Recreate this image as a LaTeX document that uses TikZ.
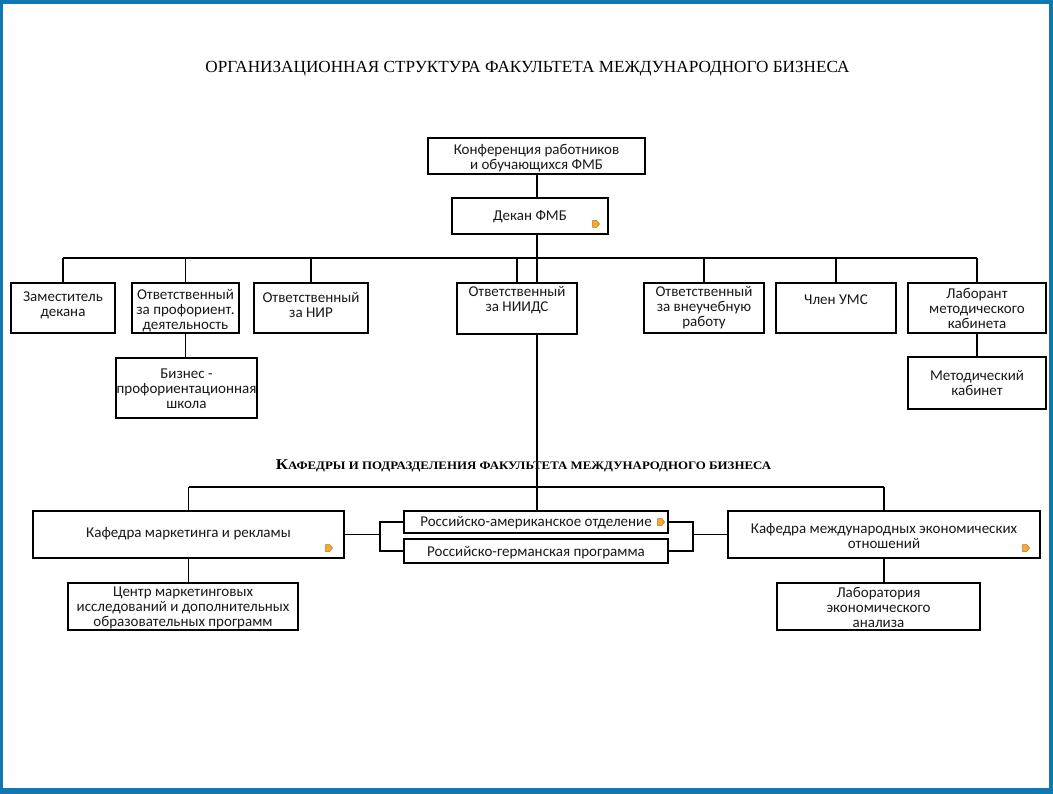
\documentclass[tikz,border=0pt]{standalone}
\usepackage{graphicx}
\usepackage{fontspec}
\setmainfont{Carlito}
\newfontfamily\tnr{Liberation Serif}
\definecolor{frameblue}{RGB}{16,120,176}
\definecolor{iconfill}{RGB}{245,170,50}
\definecolor{icondraw}{RGB}{190,110,20}
\newcommand\mybox[5]{\node[box, minimum width=#4pt-#2pt, minimum height=#5pt-#3pt] (#1) at ({(#2+#4)/2},{(#3+#5)/2}) {};}
\newcommand\myicon[2]{\filldraw[fill=iconfill, draw=icondraw, line width=0.5pt] (#1-3.5,#2-3.5) -- (#1+0.5,#2-3.5) -- (#1+3.5,#2) -- (#1+0.5,#2+3.5) -- (#1-3.5,#2+3.5) -- cycle;}
\begin{document}
\begin{tikzpicture}[x=1pt,y=-1pt,
  box/.style={draw=black, line width=1.1pt, fill=white, inner sep=0pt},
  txt/.style={font=\fontsize{15}{15}\selectfont, align=center, inner sep=0pt, text=black!90, yshift=-2pt},
  conn/.style={draw=black, line width=1.1pt}]
\useasboundingbox (0,0) rectangle (1053,794);
\fill[frameblue] (0,0) rectangle (1053,794);
\fill[white] (3,4) rectangle (1049,788);

% titles
\node[font=\tnr\fontsize{17}{17}\selectfont, inner sep=0pt] (title) at (527.5,69)
  {\scalebox{1.01}[1]{ОРГАНИЗАЦИОННАЯ СТРУКТУРА ФАКУЛЬТЕТА МЕЖДУНАРОДНОГО БИЗНЕСА}};

% boxes
\mybox{conf}{428}{138}{645}{174}
\mybox{dean}{452}{198}{608}{234}
\mybox{zam}{11}{283}{115}{333}
\mybox{prof}{132}{283}{239}{333}
\mybox{nir}{254}{283}{368}{333}
\mybox{niids}{457}{283}{577}{334}
\mybox{vne}{644}{283}{764}{333}
\mybox{ums}{776}{283}{896}{333}
\mybox{lab}{908}{283}{1046}{333}
\mybox{biz}{116}{358}{257}{418}
\mybox{metk}{908}{357}{1046}{409}
\mybox{kmark}{33}{511}{344}{558}
\mybox{ra}{404}{511}{668}{533}
\mybox{rg}{404}{539}{668}{563}
\mybox{kmeo}{728}{511}{1040}{558}
\mybox{centr}{68}{583}{298}{630}
\mybox{lea}{777}{583}{980}{630}

% texts
\node[txt] (t-conf) at (536.5,156.5) {Конференция работников\\и обучающихся ФМБ};
\node[txt] (t-dean) at (530,215) {Декан ФМБ};
\node[txt] (t-zam) at (63,303.5) {Заместитель\\декана};
\node[txt] (t-prof) at (185.5,308.5) {Ответственный\\за профориент.\\деятельность};
\node[txt] (t-nir) at (311,302.5) {Ответственный\\за НИР};
\node[txt] (t-niids) at (517,298.5) {Ответственный\\за НИИДС};
\node[txt] (t-vne) at (704,306) {Ответственный\\за внеучебную\\работу};
\node[txt] (t-ums) at (836,298) {Член УМС};
\node[txt] (t-lab) at (977,306) {Лаборант\\методического\\кабинета};
\node[txt] (t-biz) at (186.5,387) {Бизнес -\\профориентационная\\школа};
\node[txt] (t-metk) at (977,381) {Методический\\кабинет};
\node[txt] (t-kmark) at (188.5,532) {Кафедра маркетинга и рекламы};
\node[txt] (t-ra) at (536,521) {Российско-американское отделение};
\node[txt] (t-rg) at (536,551) {Российско-германская программа};
\node[txt] (t-kmeo) at (884,534) {Кафедра международных экономических\\отношений};
\node[txt] (t-centr) at (183,606) {Центр маркетинговых\\исследований и дополнительных\\образовательных программ};
\node[txt] (t-lea) at (878.5,605) {Лаборатория\\экономического\\анализа};

\node[font=\tnr\bfseries, inner sep=0pt] (subtitle) at (523.5,466)
  {\scalebox{1.12}[1]{\fontsize{15}{15}\selectfont К\fontsize{11.5}{11.5}\selectfont АФЕДРЫ И ПОДРАЗДЕЛЕНИЯ ФАКУЛЬТЕТА МЕЖДУНАРОДНОГО БИЗНЕСА}};

% icons
\myicon{596}{224}
\myicon{661}{522}
\myicon{329}{548}
\myicon{1026}{548}

% connectors
\coordinate (busL) at (63,258);
\coordinate (busR) at (977,258);
\coordinate (mid) at (537,0);
\coordinate (lbusL) at (188.5,487);
\coordinate (lbusR) at (884,487);
\coordinate (bl) at (380,0);
\coordinate (br) at (693,0);

\draw[conn] (conf.south -| mid) -- (dean.north -| mid);
\draw[conn] (dean.south -| mid) -- (niids.north -| mid);
\draw[conn] (niids.south -| mid) -- (ra.north -| mid);
\draw[conn] (busL) -- (busR);
\foreach \n in {zam,prof,nir,niids,vne,ums,lab}{
  \draw[conn] (\n.north) -- (\n.north |- busL);
}
\draw[conn] (prof.south) -- (prof.south |- biz.north);
\draw[conn] (lab.south) -- (lab.south |- metk.north);
\draw[conn] (lbusL) -- (lbusR);
\draw[conn] (lbusL) -- (kmark.north);
\draw[conn] (lbusR) -- (kmeo.north);
\draw[conn] (kmark.south) -- (kmark.south |- centr.north);
\draw[conn] (kmeo.south) -- (kmeo.south |- lea.north);
\draw[conn] (kmark.east) -- (kmark.east -| bl);
\draw[conn] (ra.west) -- (ra.west -| bl) -- (rg.west -| bl) -- (rg.west);
\draw[conn] (ra.east) -- (ra.east -| br) -- (rg.east -| br) -- (rg.east);
\draw[conn] (kmeo.west) -- (kmeo.west -| br);
\end{tikzpicture}
\end{document}
